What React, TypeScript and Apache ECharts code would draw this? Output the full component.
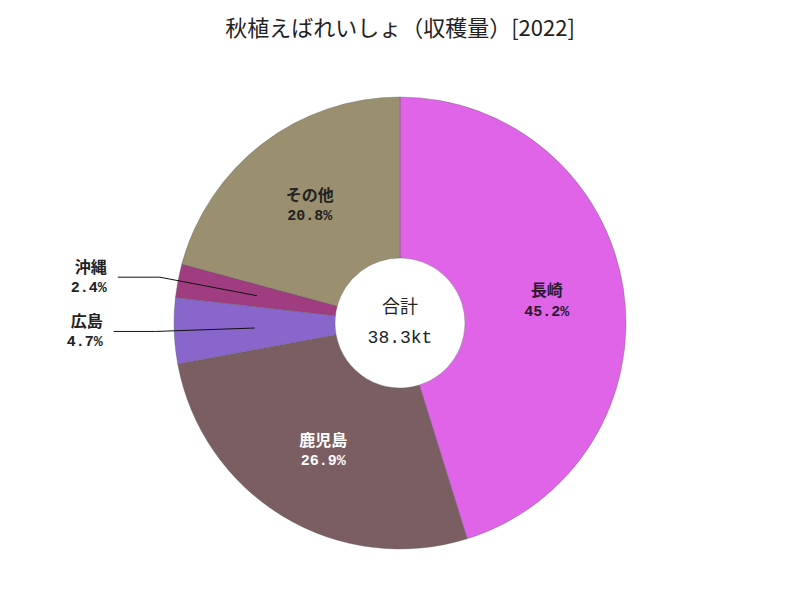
import React, { useEffect, useRef } from "react";
import * as echarts from "echarts";

const titleText = "秋植えばれいしょ（収穫量）[2022]";
const categories = ["長崎", "鹿児島", "広島", "沖縄", "その他"];
const shares = [45.2, 26.9, 4.7, 2.4, 20.8];
const colors = ["#e064e8", "#7a5e62", "#8866cc", "#a03c80", "#9a8f6e"];
const labelColors = ["#2a1a2a", "#ffffff", "#222222", "#222222", "#222222"];
const outsideLabel = [false, false, true, true, false];
const totalLabel = "合計\n38.3kt";

const monoFont = "'Liberation Mono', 'Noto Sans CJK JP', monospace";
const cjkFont = "'Noto Sans CJK JP', sans-serif";

export default function App() {
  const ref = useRef<HTMLDivElement>(null);
  useEffect(() => {
    if (!ref.current) return;
    const chart = echarts.init(ref.current, null, { renderer: "svg" });
    const fmt = (p: any) => `{n|${p.name}}\n{v|${p.value.toFixed(1)}%}`;
    const richFor = (color: string) => ({
      n: {
        fontFamily: cjkFont,
        fontSize: 16,
        fontWeight: "bold",
        lineHeight: 23,
        color,
      },
      v: {
        fontFamily: monoFont,
        fontSize: 15,
        fontWeight: "bold",
        lineHeight: 23,
        color,
      },
    });
    const mainData = categories.map((name, i) => ({
      name,
      value: shares[i],
      itemStyle: { color: colors[i] },
      label: {
        show: !outsideLabel[i],
        position: "inside",
        color: labelColors[i],
        rich: richFor(labelColors[i]),
      },
    }));
    const guideData = categories.map((name, i) => ({
      name,
      value: shares[i],
      label: { show: outsideLabel[i], rich: richFor("#222") },
      labelLine: { show: outsideLabel[i] },
    }));
    chart.setOption({
      animation: false,
      backgroundColor: "#ffffff",
      title: {
        text: titleText,
        left: "center",
        top: 10,
        textStyle: {
          fontFamily: cjkFont,
          fontSize: 22,
          fontWeight: "normal",
          color: "#222",
        },
      },
      graphic: [
        {
          type: "text",
          x: 400,
          y: 323,
          style: {
            text: totalLabel,
            x: 0,
            y: 0,
            align: "center",
            verticalAlign: "middle",
            fontFamily: monoFont,
            fontSize: 18,
            lineHeight: 30,
            fill: "#222",
          },
          z: 100,
        },
      ],
      series: [
        {
          type: "pie",
          center: [400, 323],
          radius: [65, 226],
          startAngle: 90,
          clockwise: true,
          avoidLabelOverlap: false,
          silent: true,
          itemStyle: { borderColor: "rgba(90,90,90,0.6)", borderWidth: 0.6 },
          label: { formatter: fmt },
          labelLine: { show: false },
          data: mainData,
        },
        {
          type: "pie",
          center: [400, 323],
          radius: [65, 145.5],
          startAngle: 90,
          clockwise: true,
          avoidLabelOverlap: false,
          silent: true,
          z: 5,
          itemStyle: { color: "rgba(0,0,0,0)", borderWidth: 0 },
          label: {
            position: "outside",
            formatter: fmt,
            color: "#222",
            distanceToLabelLine: 11,
          },
          labelLine: {
            length: 99,
            length2: 42,
            smooth: false,
            lineStyle: { color: "#111", width: 1 },
          },
          data: guideData,
        },
      ],
    });
    return () => chart.dispose();
  }, []);
  return (
    <div
      ref={ref}
      style={{ position: "absolute", left: 0, top: 0, width: 800, height: 600 }}
    />
  );
}
